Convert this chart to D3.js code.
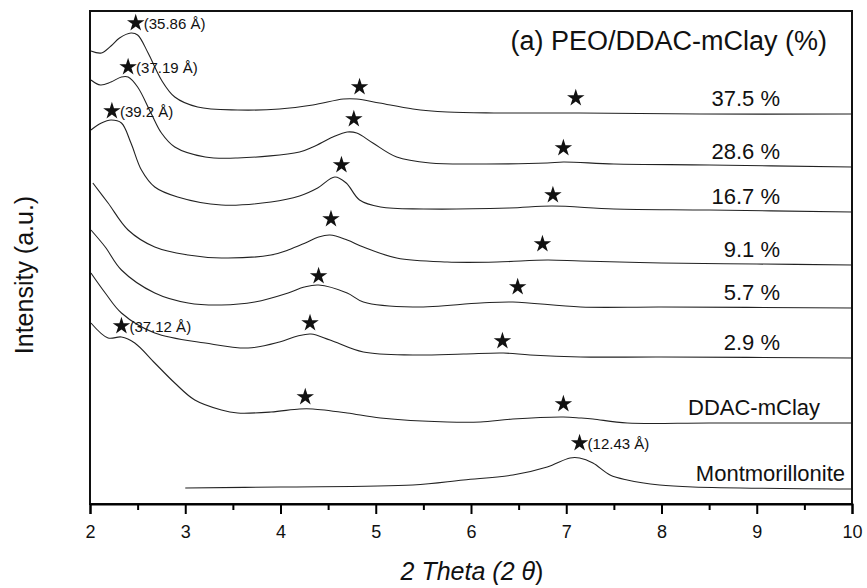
<!DOCTYPE html>
<html>
<head>
<meta charset="utf-8">
<script src="https://cdn.jsdelivr.net/npm/d3@7/dist/d3.min.js"></script>
<style>
    body { margin: 0; background: #fff; }
    svg { display: block; }
    text { font-family: "Liberation Sans", Arial, sans-serif; fill: #111; }
</style>
</head>
<body>
<div id="chart"></div>
<script>
// 2θ 与 强度(a.u.) 读数，每条曲线已叠加偏移
let peo375 = [[2.01,453],[2.12,451],[2.22,458],[2.31,466],[2.43,471],[2.50,469],[2.61,451],[2.75,424],[2.89,407],[3.13,397],[3.55,394],[3.99,395],[4.34,399],[4.66,405],[4.80,405],[5.04,401],[5.39,395],[5.75,392],[6.24,391],[7.14,391],[8.40,390],[10,390]];
let peo286 = [[2.01,424],[2.11,419],[2.22,422],[2.33,427],[2.40,427],[2.50,417],[2.64,391],[2.75,371],[2.89,357],[3.21,347],[3.55,346],[4.20,352],[4.34,357],[4.55,367],[4.70,372],[4.80,371],[4.97,361],[5.22,347],[5.57,341],[6.10,340],[6.80,341],[6.97,342],[7.5,340],[8.5,339],[10,337]];
let peo167 = [[2.01,374],[2.12,381],[2.22,384],[2.33,381],[2.43,361],[2.54,334],[2.68,317],[2.92,307],[3.38,299],[3.90,302],[4.20,308],[4.39,316],[4.57,327],[4.69,321],[4.83,304],[5.05,297],[5.5,295],[6.4,296],[6.85,298],[7.5,295],[8.5,294],[10,292]];
let peo91 = [[2.03,321],[2.19,301],[2.40,274],[2.68,257],[3.03,249],[3.38,246],[3.90,249],[4.08,254],[4.26,261],[4.40,267],[4.52,269],[4.70,264],[4.87,257],[5.22,246],[5.75,242],[6.27,242],[6.80,244],[7.15,243],[8.0,241],[9.0,240],[10,239]];
let peo57 = [[2.01,274],[2.16,257],[2.33,234],[2.68,211],[3.03,201],[3.38,199],[3.73,202],[4.08,211],[4.25,217],[4.40,219],[4.70,211],[4.87,202],[5.39,197],[6.10,201],[6.44,202],[7.15,197],[8.0,197],[10,196]];
let peo29 = [[2.01,231],[2.16,211],[2.33,191],[2.68,171],[3.21,161],[3.66,156],[3.99,162],[4.18,168],[4.32,170],[4.52,164],[4.87,152],[5.39,149],[5.92,150],[6.34,151],[6.62,149],[7.15,147],[8.0,147],[10,146]];
let ddac = [[2.01,181],[2.19,166],[2.33,167],[2.47,161],[2.68,141],[2.89,121],[3.10,104],[3.38,94],[3.55,91],[3.90,92],[4.20,95],[4.34,95],[4.70,91],[5.05,86],[5.75,82],[6.10,82],[6.44,85],[6.97,87],[7.15,86],[7.28,85],[7.64,81],[8.5,81],[10,81]];
let mont = [[3.0,16],[4.0,17],[5.39,19],[5.92,24],[6.44,29],[6.80,37],[7.04,46],[7.14,46],[7.28,41],[7.46,29],[7.64,24],[7.98,19],[8.33,17],[10,15]];

// 星号标记 (2θ, a.u.)
let stars375 = [[2.48,481],[4.83,417],[7.10,406]];
let stars286 = [[2.40,437],[4.77,385],[6.97,356]];
let stars167 = [[2.23,393],[4.64,339],[6.86,309]];
let stars91 = [[4.53,285],[6.75,260]];
let stars57 = [[4.40,228],[6.49,217]];
let stars29 = [[2.33,178],[4.31,181],[6.33,163]];
let starsDdac = [[4.26,107],[6.97,100]];
let starsMont = [[7.14,61]];

let seriesNames = ['37.5 %', '28.6 %', '16.7 %', '9.1 %', '5.7 %', '2.9 %', 'DDAC-mClay', 'Montmorillonite'];
let seriesData = [peo375, peo286, peo167, peo91, peo57, peo29, ddac, mont];
let seriesStars = [stars375, stars286, stars167, stars91, stars57, stars29, starsDdac, starsMont];
// 第一个星号旁的层间距标注
let spacingNotes = ['(35.86 Å)', '(37.19 Å)', '(39.2 Å)', null, null, '(37.12 Å)', null, '(12.43 Å)'];

let majorTicks = [2, 3, 4, 5, 6, 7, 8, 9, 10];
let minorTicks = [2.5, 3.5, 4.5, 5.5, 6.5, 7.5, 8.5, 9.5];

let width = 867, height = 588;
let svg = d3.select('#chart').append('svg')
    .attr('width', width)
    .attr('height', height);

let xScale = d3.scaleLinear().domain([2, 10]).range([90, 852]);
let yScale = d3.scaleLinear().domain([0, 493]).range([504, 11]);

//曲线
let line = d3.line()
    .x(d => xScale(d[0]))
    .y(d => yScale(d[1]))
    .curve(d3.curveCatmullRom.alpha(0.5));

let g = svg.append('g');
g.selectAll('path.xrd')
    .data(seriesData)
    .enter()
    .append('path')
    .attr('class', 'xrd')
    .attr('d', line)
    .attr('fill', 'none')
    .attr('stroke', '#222')
    .attr('stroke-width', 1.1);

//星号
let star = d3.symbol().type(d3.symbolStar).size(95);
seriesStars.forEach((arr, i) => {
    g.selectAll('path.star' + i)
        .data(arr)
        .enter()
        .append('path')
        .attr('class', 'star' + i)
        .attr('d', star)
        .attr('transform', d => 'translate(' + xScale(d[0]) + ',' + yScale(d[1]) + ')')
        .attr('fill', '#111');
    if (spacingNotes[i]) {
        let s = arr[0];
        g.append('text')
            .attr('x', xScale(s[0]) + 8)
            .attr('y', yScale(s[1]) + 6)
            .attr('font-size', 15)
            .text(spacingNotes[i]);
    }
});

//曲线名称，放在每条曲线右端上方
seriesNames.forEach((name, i) => {
    let last = seriesData[i][seriesData[i].length - 1];
    let endX = 780;
    if (name === 'DDAC-mClay') endX = 820;
    if (name === 'Montmorillonite') endX = 845;
    g.append('text')
        .attr('x', endX)
        .attr('y', yScale(last[1]) - 8)
        .attr('text-anchor', 'end')
        .attr('font-size', 22)
        .text(name);
});

//坐标框
svg.append('rect')
    .attr('x', 90)
    .attr('y', 11)
    .attr('width', 762)
    .attr('height', 493)
    .attr('fill', 'none')
    .attr('stroke', '#111')
    .attr('stroke-width', 2);

//x轴
let xAxis = svg.append('g')
    .attr('transform', 'translate(0,504)')
    .call(d3.axisBottom(xScale).tickValues(majorTicks).tickSize(10).tickFormat(d3.format('d')));
xAxis.select('.domain').attr('stroke-width', 2);
xAxis.selectAll('.tick line').attr('stroke-width', 2);
xAxis.selectAll('.tick text')
    .attr('font-size', 18)
    .attr('font-family', '"Liberation Sans", Arial, sans-serif')
    .attr('fill', '#111')
    .attr('dy', '1.15em');

let xMinor = svg.append('g')
    .attr('transform', 'translate(0,504)')
    .call(d3.axisBottom(xScale).tickValues(minorTicks).tickSize(6).tickFormat(''));
xMinor.select('.domain').remove();
xMinor.selectAll('.tick line').attr('stroke-width', 2);

//标题与坐标标签
svg.append('text')
    .attr('x', 827)
    .attr('y', 50)
    .attr('text-anchor', 'end')
    .attr('font-size', 27)
    .text('(a) PEO/DDAC-mClay (%)');

svg.append('text')
    .attr('transform', 'translate(33,275) rotate(-90)')
    .attr('text-anchor', 'middle')
    .attr('font-size', 25)
    .text('Intensity (a.u.)');

let xLabel = svg.append('text')
    .attr('x', 472)
    .attr('y', 580)
    .attr('text-anchor', 'middle')
    .attr('font-size', 25)
    .attr('font-style', 'italic');
xLabel.append('tspan').text('2 Theta (2 ');
xLabel.append('tspan').text('θ');
xLabel.append('tspan').attr('font-style', 'normal').text(')');
</script>
</body>
</html>
